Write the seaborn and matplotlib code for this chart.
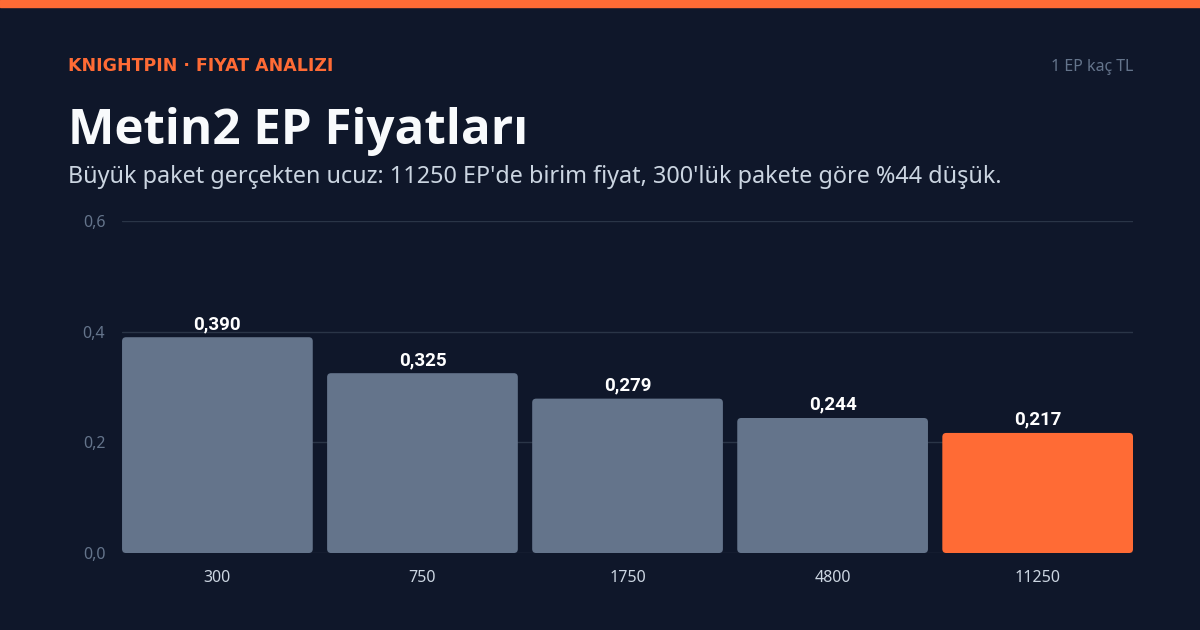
import matplotlib
matplotlib.use("Agg")
import matplotlib.pyplot as plt
from matplotlib.patches import FancyBboxPatch
import seaborn as sns
import pandas as pd

# Data
packages = ["300", "750", "1750", "4800", "11250"]
unit_price = [0.390, 0.325, 0.279, 0.244, 0.217]
y_ticks = [0.0, 0.2, 0.4, 0.6]

BG = "#0f172a"
GREY_BAR = "#64748b"
ORANGE = "#ff6b35"
GRID = "#2a3547"
TITLE_FONT = ["Open Sans", "DejaVu Sans"]
BOLD_FONT = ["Roboto", "DejaVu Sans"]

sns.set_theme(style="dark")
plt.rcParams["font.family"] = ["Noto Sans", "DejaVu Sans"]

df = pd.DataFrame({"paket": packages, "fiyat": unit_price})
colors = [GREY_BAR] * (len(packages) - 1) + [ORANGE]

fig = plt.figure(figsize=(12, 6.3), dpi=100, facecolor=BG)
ax = fig.add_axes([0.1017, 0.1222, 0.8425, 0.527])
ax.set_facecolor(BG)

sns.barplot(data=df, x="paket", y="fiyat", hue="paket", palette=colors,
            legend=False, width=0.93, ax=ax, saturation=1, linewidth=0)

ax.set_xlim(-0.465, len(packages) - 1 + 0.465)
ax.set_ylim(0, 0.6)

# rounded bar corners (~4 px)
px_x = (ax.get_xlim()[1] - ax.get_xlim()[0]) / (1200 * 0.8425)
px_y = 0.6 / (630 * 0.527)
for p in list(ax.patches):
    x0, y0 = p.get_x(), p.get_y()
    w, h = p.get_width(), p.get_height()
    rb = FancyBboxPatch((x0, y0), w, h,
                        boxstyle=f"round,pad=0,rounding_size={4 * px_x}",
                        mutation_aspect=px_y / px_x,
                        facecolor=p.get_facecolor(), edgecolor="none", zorder=2)
    p.remove()
    ax.add_patch(rb)

ax.set_yticks(y_ticks)
ax.set_yticklabels([f"{t:.1f}".replace(".", ",") for t in y_ticks])
ax.grid(axis="y", color=GRID, linewidth=1)
ax.set_axisbelow(True)
ax.set_xlabel("")
ax.set_ylabel("")
for s in ax.spines.values():
    s.set_visible(False)
ax.tick_params(axis="y", colors="#64748b", labelsize=11.5, length=0, pad=12)
ax.tick_params(axis="x", colors="#cbd5e1", labelsize=11.5, length=0, pad=12)

for i, v in enumerate(unit_price):
    ax.annotate(f"{v:.3f}".replace(".", ","), (i, v), xytext=(0, 3),
                textcoords="offset points", ha="center", va="bottom",
                color="white", fontsize=13.5, fontweight="bold", family=BOLD_FONT)

# header
fig.patches.append(plt.Rectangle((0, 1 - 7 / 630), 1, 7 / 630, transform=fig.transFigure,
                                 color=ORANGE, zorder=5))
fig.text(68 / 1200, 1 - 66 / 630, "KNIGHTPIN · FIYAT ANALIZI", color=ORANGE,
         fontsize=12.5, fontweight="bold", va="center", ha="left", family=["DejaVu Sans"])
fig.text(1133 / 1200, 1 - 67 / 630, "1 EP kaç TL", color="#64748b",
         fontsize=11.5, va="center", ha="right")
fig.text(68 / 1200, 1 - 132 / 630, "Metin2 EP Fiyatları", color="#f8fafc",
         fontsize=35.5, fontweight="bold", va="center", ha="left", family=TITLE_FONT)
fig.text(68 / 1200, 1 - 177 / 630,
         "Büyük paket gerçekten ucuz: 11250 EP'de birim fiyat, 300'lük pakete göre %44 düşük.",
         color="#cbd5e1", fontsize=16.8, va="center", ha="left")

fig.savefig("out.png", dpi=100, facecolor=BG)
